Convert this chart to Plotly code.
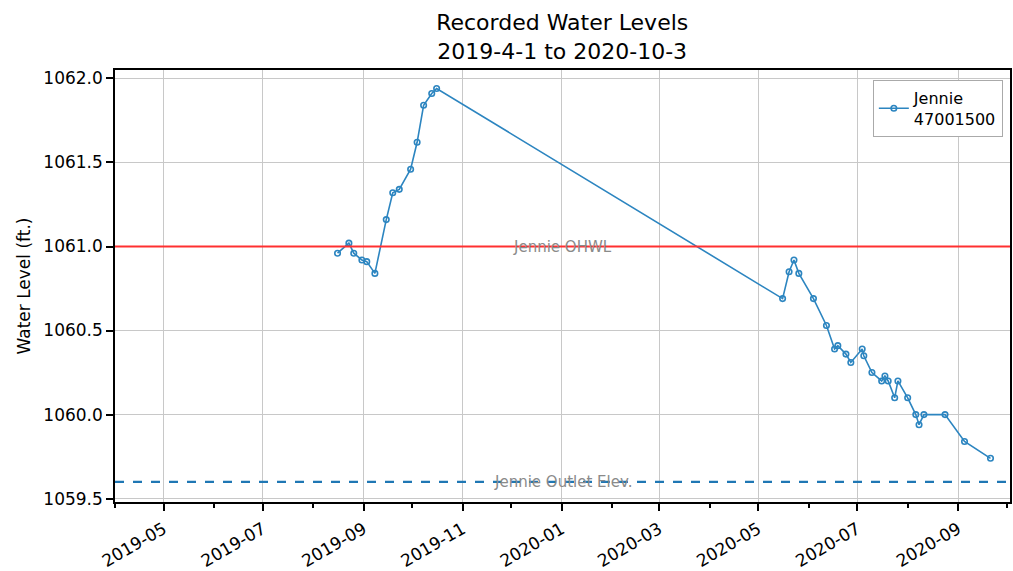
import plotly.graph_objects as go

dates = [
    "2019-08-16", "2019-08-23", "2019-08-26", "2019-08-31", "2019-09-03",
    "2019-09-08", "2019-09-15", "2019-09-19", "2019-09-23", "2019-09-30",
    "2019-10-04", "2019-10-08", "2019-10-13", "2019-10-16",
    "2020-05-16", "2020-05-20", "2020-05-23", "2020-05-26", "2020-06-04",
    "2020-06-12", "2020-06-17", "2020-06-19", "2020-06-24", "2020-06-27",
    "2020-07-04", "2020-07-05", "2020-07-10", "2020-07-16", "2020-07-18",
    "2020-07-20", "2020-07-24", "2020-07-26", "2020-08-01", "2020-08-06",
    "2020-08-08", "2020-08-11", "2020-08-24", "2020-09-05", "2020-09-21",
]
levels = [
    1060.96, 1061.02, 1060.96, 1060.92, 1060.91,
    1060.84, 1061.16, 1061.32, 1061.34, 1061.46,
    1061.62, 1061.84, 1061.91, 1061.94,
    1060.69, 1060.85, 1060.92, 1060.84, 1060.69,
    1060.53, 1060.39, 1060.41, 1060.36, 1060.31,
    1060.39, 1060.35, 1060.25, 1060.20, 1060.23,
    1060.20, 1060.10, 1060.20, 1060.10, 1060.00,
    1059.94, 1060.00, 1060.00, 1059.84, 1059.74,
]
series_name = "Jennie<br>47001500"
ohwl_level = 1061.0
ohwl_label = "Jennie OHWL"
outlet_level = 1059.6
outlet_label = "Jennie Outlet Elev."
x_range = ["2019-04-01", "2020-10-03"]
y_range = [1059.48, 1062.05]
y_ticks = [1059.5, 1060.0, 1060.5, 1061.0, 1061.5, 1062.0]
title_text = "Recorded Water Levels<br>2019-4-1 to 2020-10-3"

FONT = "DejaVu Sans"
fig = go.Figure()

fig.add_trace(go.Scatter(
    x=dates, y=levels, mode="lines+markers", name=series_name,
    line=dict(color="#2c85c0", width=1.6),
    marker=dict(symbol="circle-open", size=5.5, color="#2c85c0", line=dict(width=1.6)),
))

fig.add_hline(y=ohwl_level, line=dict(color="#ff3030", width=2), layer="above")
fig.add_hline(y=outlet_level, line=dict(color="#1f77b4", width=2.2, dash="dash"), layer="above")

fig.add_annotation(x=0.5, xref="paper", y=ohwl_level, yref="y", text=ohwl_label,
                   showarrow=False, font=dict(family=FONT, size=15, color="#8a8a8a"),
                   yanchor="middle")
fig.add_annotation(x=0.5, xref="paper", y=outlet_level, yref="y", text=outlet_label,
                   showarrow=False, font=dict(family=FONT, size=15, color="#8a8a8a"),
                   yanchor="middle")

fig.update_layout(
    width=1013, height=571,
    margin=dict(l=115, r=3, t=70, b=69),
    paper_bgcolor="white", plot_bgcolor="white",
    font=dict(family=FONT, size=17, color="black"),
    title=dict(text=title_text, x=0.555, xanchor="center", yref="container",
               y=1 - 30 / 571, yanchor="middle",
               font=dict(family=FONT, size=22, color="black")),
    showlegend=True,
    legend=dict(x=0.992, y=0.977, xanchor="right", yanchor="top",
                bgcolor="white", bordercolor="#aaaaaa", borderwidth=1,
                font=dict(family=FONT, size=16)),
    xaxis=dict(
        type="date", range=x_range, dtick="M2", tick0="2019-05-01", tickformat="%Y-%m",
        tickangle=-30, ticks="outside", ticklen=7, tickcolor="black", tickwidth=1.5,
        ticklabelstandoff=2,
        showgrid=True, gridcolor="#c8c8c8", gridwidth=1, automargin=False,
        showline=True, linecolor="black", linewidth=1.5, mirror=True,
        minor=dict(ticks="outside", dtick="M1", ticklen=4, tickcolor="black", showgrid=False),
        tickfont=dict(family=FONT, size=17),
    ),
    yaxis=dict(
        range=y_range, tickvals=y_ticks, tickformat=".1f",
        ticks="outside", ticklen=7, tickcolor="black", tickwidth=1.5,
        showgrid=True, gridcolor="#c8c8c8", gridwidth=1, zeroline=False, automargin=False,
        showline=True, linecolor="black", linewidth=1.5, mirror=True,
        title=dict(text="Water Level (ft.)", font=dict(family=FONT, size=17), standoff=8),
        tickfont=dict(family=FONT, size=17),
    ),
)

fig.write_html("out.html", config={"displayModeBar": False},
               post_script="document.body.style.margin='0';")
